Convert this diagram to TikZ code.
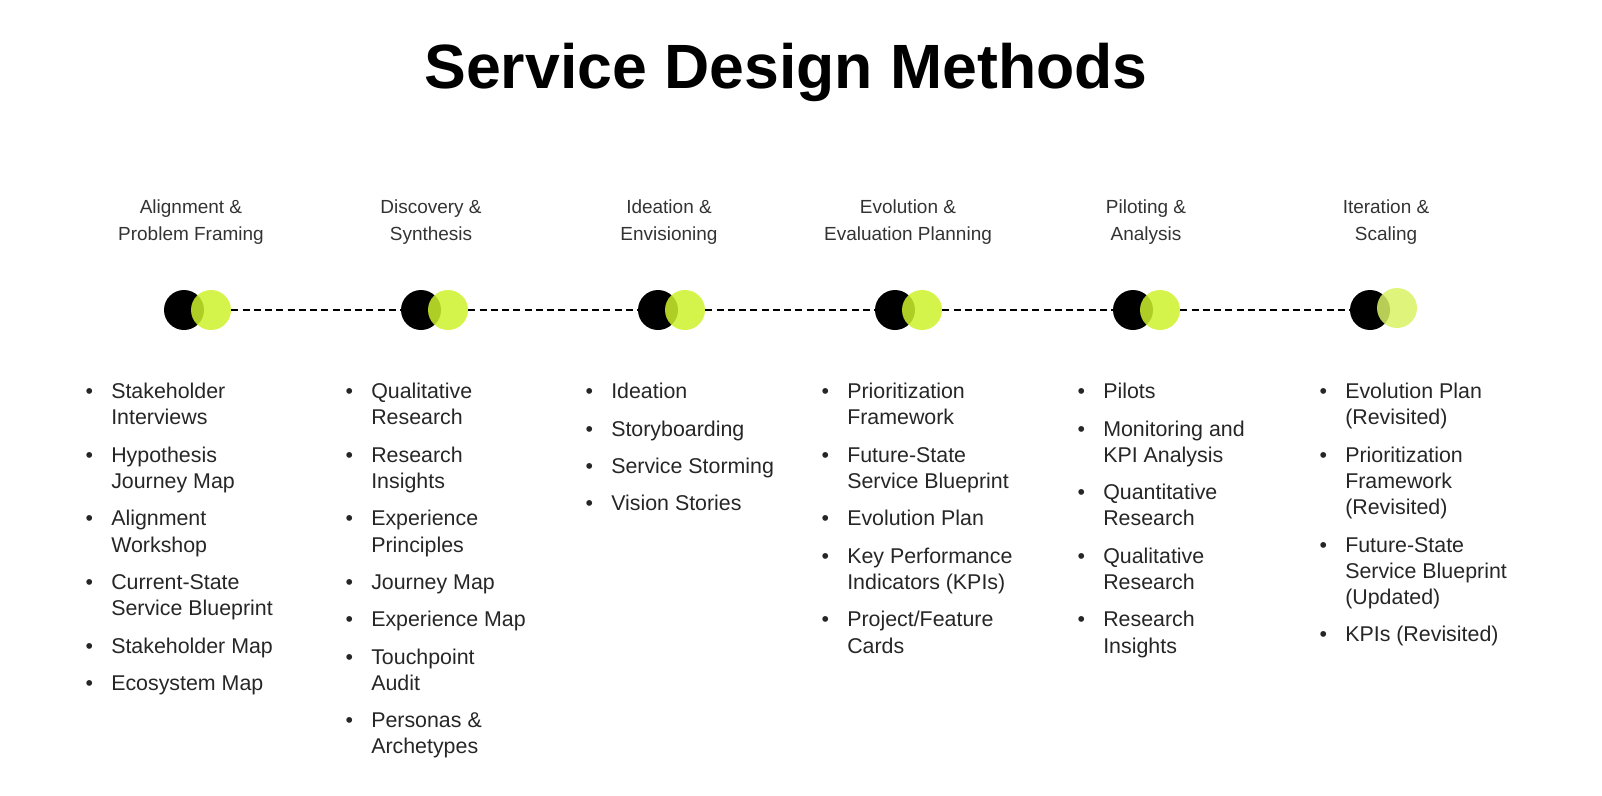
\documentclass[tikz,border=0pt]{standalone}
\usepackage{fontspec}
\setmainfont{Liberation Sans}
\usetikzlibrary{positioning}
\definecolor{lime}{HTML}{CDF22C}
\definecolor{palelime}{HTML}{D8F264}
\tikzset{
  phase/.style={align=center, font=\fontsize{13.5}{19.3}\selectfont, text=black!80},
  steps/.style={anchor=north west, align=left, inner sep=0pt, font=\fontsize{15.2}{18.6}\selectfont, text=black!85},
  dark/.style={circle, fill=black, minimum size=40*0.025cm, inner sep=0pt},
  light/.style={circle, fill=lime, fill opacity=0.85, minimum size=40*0.025cm, inner sep=0pt},
  link/.style={densely dashed, line width=1.2pt, dash pattern=on 5pt off 3pt},
}
\newcommand{\bul}{\llap{\textbullet\hspace{13pt}}}
\newcommand{\gap}{\\[8pt]}

\begin{document}
\begin{tikzpicture}[x=0.025cm, y=-0.025cm]
    \useasboundingbox (0,0) rectangle (1602,795);

    \node[font=\bfseries\fontsize{44.5}{50}\selectfont] (title) at (786,72) {Service Design Methods};

    % phases
    \node[phase] (p1) at (191,222) {Alignment \&\\Problem Framing};
    \node[phase] (p2) at (431,222) {Discovery \&\\Synthesis};
    \node[phase] (p3) at (669,222) {Ideation \&\\Envisioning};
    \node[phase] (p4) at (908,222) {Evolution \&\\Evaluation Planning};
    \node[phase] (p5) at (1146,222) {Piloting \&\\Analysis};
    \node[phase] (p6) at (1386,222) {Iteration \&\\Scaling};

    % markers
    \foreach \i/\x in {1/184, 2/421, 3/658, 4/895, 5/1133, 6/1370} {
        \node[dark] (b\i) at (\x,310) {};
    }
    \foreach \i/\x in {1/211, 2/448, 3/685, 4/922, 5/1160} {
        \node[light] (g\i) at (\x,310) {};
    }
    \node[light, fill=palelime] (g6) at (1397,308) {};
    \foreach \a/\b in {1/2, 2/3, 3/4, 4/5, 5/6}
        \draw[link] (g\a.east) -- (b\b.west);

    % method lists
    \node[steps] (l1) at (111,383) {\bul Stakeholder\\Interviews\gap
        \bul Hypothesis\\Journey Map\gap
        \bul Alignment\\Workshop\gap
        \bul Current-State\\Service Blueprint\gap
        \bul Stakeholder Map\gap
        \bul Ecosystem Map};
    \node[steps] (l2) at (371,383) {\bul Qualitative\\Research\gap
        \bul Research\\Insights\gap
        \bul Experience\\Principles\gap
        \bul Journey Map\gap
        \bul Experience Map\gap
        \bul Touchpoint\\Audit\gap
        \bul Personas \&\\Archetypes};
    \node[steps] (l3) at (611,383) {\bul Ideation\gap
        \bul Storyboarding\gap
        \bul Service Storming\gap
        \bul Vision Stories};
    \node[steps] (l4) at (847,383) {\bul Prioritization\\Framework\gap
        \bul Future-State\\Service Blueprint\gap
        \bul Evolution Plan\gap
        \bul Key Performance\\Indicators (KPIs)\gap
        \bul Project/Feature\\Cards};
    \node[steps] (l5) at (1103,383) {\bul Pilots\gap
        \bul Monitoring and\\KPI Analysis\gap
        \bul Quantitative\\Research\gap
        \bul Qualitative\\Research\gap
        \bul Research\\Insights};
    \node[steps] (l6) at (1345,383) {\bul Evolution Plan\\(Revisited)\gap
        \bul Prioritization\\Framework\\(Revisited)\gap
        \bul Future-State\\Service Blueprint\\(Updated)\gap
        \bul KPIs (Revisited)};
\end{tikzpicture}
\end{document}
